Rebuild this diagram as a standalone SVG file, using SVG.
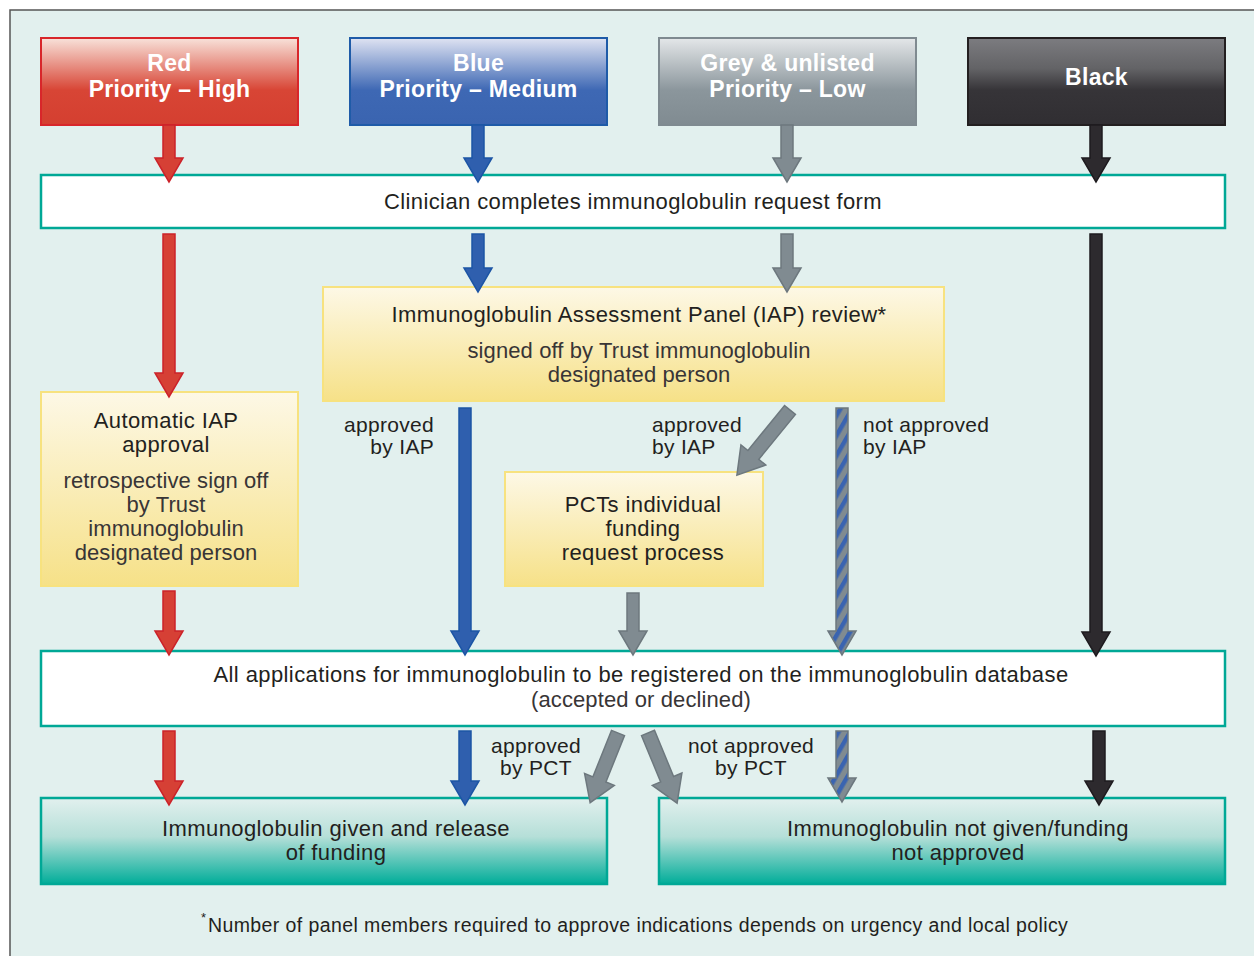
<svg xmlns="http://www.w3.org/2000/svg" width="1254" height="956" viewBox="0 0 1254 956">
<defs>
<linearGradient id="gRed" x1="0" y1="0" x2="0" y2="1"><stop offset="0" stop-color="#f8e2da"/><stop offset="0.6" stop-color="#d84535"/><stop offset="1" stop-color="#d43f30"/></linearGradient>
<linearGradient id="gBlue" x1="0" y1="0" x2="0" y2="1"><stop offset="0" stop-color="#dfe3f2"/><stop offset="0.6" stop-color="#3e68b4"/><stop offset="1" stop-color="#3a64b0"/></linearGradient>
<linearGradient id="gGrey" x1="0" y1="0" x2="0" y2="1"><stop offset="0" stop-color="#e4e7e9"/><stop offset="0.6" stop-color="#8b969c"/><stop offset="1" stop-color="#808b91"/></linearGradient>
<linearGradient id="gBlack" x1="0" y1="0" x2="0" y2="1"><stop offset="0" stop-color="#7c7c80"/><stop offset="0.35" stop-color="#636366"/><stop offset="0.6" stop-color="#363438"/><stop offset="1" stop-color="#302e32"/></linearGradient>
<linearGradient id="gYel" x1="0" y1="0" x2="0" y2="1"><stop offset="0" stop-color="#fdf8e6"/><stop offset="1" stop-color="#f6e188"/></linearGradient>
<linearGradient id="gTeal" x1="0" y1="0" x2="0" y2="1"><stop offset="0" stop-color="#e2f0ee"/><stop offset="0.45" stop-color="#b5dfd8"/><stop offset="1" stop-color="#00ad99"/></linearGradient>
<pattern id="stripe" width="10" height="10" patternUnits="userSpaceOnUse" patternTransform="rotate(30)">
<rect width="10" height="10" fill="#808b91"/><rect width="4.5" height="10" fill="#3a64b0"/>
</pattern>
<style>
.t{font-family:"Liberation Sans",Arial,sans-serif;fill:#231f20;text-anchor:middle;font-size:22px;letter-spacing:0.4px}
.s{fill:#383536;letter-spacing:0.1px}
.hd{font-family:"Liberation Sans",Arial,sans-serif;font-weight:bold;fill:#fff;text-anchor:middle;font-size:23px;letter-spacing:0.3px}
.l{font-family:"Liberation Sans",Arial,sans-serif;fill:#231f20;font-size:21px;letter-spacing:0.3px}
.aR{fill:#d64035;stroke:#cc2229;stroke-width:1.5}
.aB{fill:#2f5fae;stroke:#1c55a5;stroke-width:1.5}
.aG{fill:#808b91;stroke:#6d787e;stroke-width:1.5}
.aK{fill:#2d2a2e;stroke:#1e1b1f;stroke-width:1.5}
.aS{fill:url(#stripe);stroke:#6d787e;stroke-width:1.5}
.wb{fill:#fff;stroke:#00a896;stroke-width:2.5}
.yb{fill:url(#gYel);stroke:#f7e27f;stroke-width:2}
.tb{fill:url(#gTeal);stroke:#00a896;stroke-width:2.5}
</style>
</defs>
<rect width="1254" height="956" fill="#fff"/>
<rect x="10" y="10" width="1250" height="950" fill="#e2f0ee"/>
<path d="M10,956 V10 H1254" fill="none" stroke="#555" stroke-width="1.5"/>

<g id="red">
<rect x="41" y="38" width="257" height="87" fill="url(#gRed)" stroke="#d8262a" stroke-width="2"/>
<text class="hd" x="169.5" y="71">Red</text><text class="hd" x="169.5" y="97">Priority – High</text>
</g>
<g id="blue">
<rect x="350" y="38" width="257" height="87" fill="url(#gBlue)" stroke="#1f5ba8" stroke-width="2"/>
<text class="hd" x="478.5" y="71">Blue</text><text class="hd" x="478.5" y="97">Priority – Medium</text>
</g>
<g id="grey">
<rect x="659" y="38" width="257" height="87" fill="url(#gGrey)" stroke="#7f8a90" stroke-width="2"/>
<text class="hd" x="787.5" y="71">Grey &amp; unlisted</text><text class="hd" x="787.5" y="97">Priority – Low</text>
</g>
<g id="black">
<rect x="968" y="38" width="257" height="87" fill="url(#gBlack)" stroke="#231f20" stroke-width="2"/>
<text class="hd" x="1096.5" y="85">Black</text>
</g>

<g id="clinician">
<rect class="wb" x="41" y="175" width="1184" height="53"/>
<text class="t" x="633" y="209">Clinician completes immunoglobulin request form</text>
</g>

<g id="iap">
<rect class="yb" x="323" y="287" width="621" height="114"/>
<text class="t" x="639" y="322">Immunoglobulin Assessment Panel (IAP) review*</text>
<text class="t s" x="639" y="358">signed off by Trust immunoglobulin</text>
<text class="t s" x="639" y="382">designated person</text>
</g>

<g id="auto">
<rect class="yb" x="41" y="392" width="257" height="194"/>
<text class="t" x="166" y="428">Automatic IAP</text>
<text class="t" x="166" y="452">approval</text>
<text class="t s" x="166" y="488">retrospective sign off</text>
<text class="t s" x="166" y="512">by Trust</text>
<text class="t s" x="166" y="536">immunoglobulin</text>
<text class="t s" x="166" y="560">designated person</text>
</g>

<g id="pct">
<rect class="yb" x="505" y="472" width="258" height="114"/>
<text class="t" x="643" y="512">PCTs individual</text>
<text class="t" x="643" y="536">funding</text>
<text class="t" x="643" y="560">request process</text>
</g>

<g id="register">
<rect class="wb" x="41" y="651" width="1184" height="75"/>
<text class="t" x="641" y="682">All applications for immunoglobulin to be registered on the immunoglobulin database</text>
<text class="t s" x="641" y="707">(accepted or declined)</text>
</g>

<g id="given">
<rect class="tb" x="41" y="798" width="566" height="86"/>
<text class="t" x="336" y="836">Immunoglobulin given and release</text>
<text class="t" x="336" y="860">of funding</text>
</g>
<g id="notgiven">
<rect class="tb" x="659" y="798" width="566" height="86"/>
<text class="t" x="958" y="836">Immunoglobulin not given/funding</text>
<text class="t" x="958" y="860">not approved</text>
</g>

<g id="labels">
<text class="l" x="434" y="432" text-anchor="end">approved</text>
<text class="l" x="434" y="454" text-anchor="end">by IAP</text>
<text class="l" x="652" y="432">approved</text>
<text class="l" x="652" y="454">by IAP</text>
<text class="l" x="863" y="432">not approved</text>
<text class="l" x="863" y="454">by IAP</text>
<text class="l" x="536" y="753" text-anchor="middle">approved</text>
<text class="l" x="536" y="775" text-anchor="middle">by PCT</text>
<text class="l" x="751" y="753" text-anchor="middle">not approved</text>
<text class="l" x="751" y="775" text-anchor="middle">by PCT</text>
</g>

<g id="connectors">
<polygon class="aR" points="163,125 175,125 175,158 183,158 169,182 155,158 163,158"/>
<polygon class="aB" points="472,125 484,125 484,158 492,158 478,182 464,158 472,158"/>
<polygon class="aG" points="781,125 793,125 793,158 801,158 787,182 773,158 781,158"/>
<polygon class="aK" points="1090,125 1102,125 1102,158 1110,158 1096,182 1082,158 1090,158"/>
<polygon class="aR" points="163,234 175,234 175,373 183,373 169,397 155,373 163,373"/>
<polygon class="aB" points="472,234 484,234 484,268 492,268 478,292 464,268 472,268"/>
<polygon class="aG" points="781,234 793,234 793,268 801,268 787,292 773,268 781,268"/>
<polygon class="aK" points="1090,234 1102,234 1102,632 1110,632 1096,656 1082,632 1090,632"/>
<polygon class="aB" points="459,408 471,408 471,631 479,631 465,655 451,631 459,631"/>
<polygon class="aS" points="836,408 848,408 848,631 856,631 842,655 828,631 836,631"/>
<polygon class="aR" points="163,591 175,591 175,631 183,631 169,655 155,631 163,631"/>
<polygon class="aG" points="627,593 639,593 639,631 647,631 633,655 619,631 627,631"/>
<polygon class="aG" transform="translate(790,410) rotate(39.2)" points="-7,0 7,0 7,58 16,58 0,84 -16,58 -7,58"/>
<polygon class="aR" points="163,731 175,731 175,781 183,781 169,805 155,781 163,781"/>
<polygon class="aB" points="459,731 471,731 471,781 479,781 465,805 451,781 459,781"/>
<polygon class="aS" points="836,731 848,731 848,778 856,778 842,802 828,778 836,778"/>
<polygon class="aK" points="1093,731 1105,731 1105,781 1113,781 1099,805 1085,781 1093,781"/>
<polygon class="aG" transform="translate(618,733) rotate(21.8)" points="-7,0 7,0 7,50 16,50 0,75 -16,50 -7,50"/>
<polygon class="aG" transform="translate(648,733) rotate(-22.5)" points="-7,0 7,0 7,50 16,50 0,76 -16,50 -7,50"/>
</g>

<g id="footnote">
<text x="201" y="922" font-family="Liberation Sans, Arial, sans-serif" font-size="13" fill="#231f20">*</text>
<text x="208" y="932" font-family="Liberation Sans, Arial, sans-serif" font-size="19.5" letter-spacing="0.4" fill="#231f20">Number of panel members required to approve indications depends on urgency and local policy</text>
</g>
</svg>
